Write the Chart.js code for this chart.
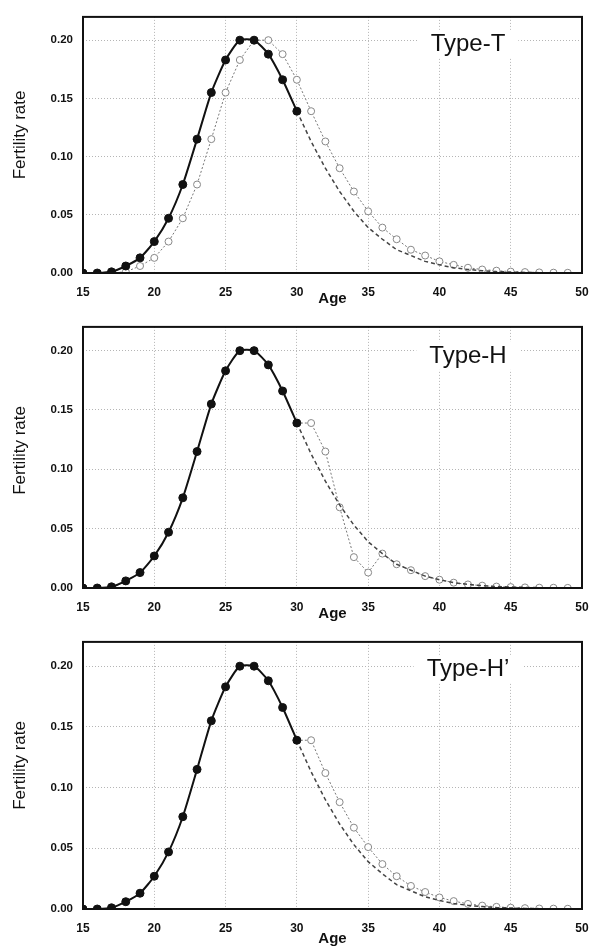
<!DOCTYPE html>
<html>
<head>
<meta charset="utf-8">
<script src="https://cdn.jsdelivr.net/npm/chart.js@4.4.0/dist/chart.umd.min.js"></script>
<style>
  body { margin: 0; background: #fff; }
  canvas { position: absolute; left: 0; }
</style>
</head>
<body>
<canvas id="chartT" width="591" height="310" style="top:0px"></canvas>
<canvas id="chartH" width="591" height="315" style="top:310px"></canvas>
<canvas id="chartH2" width="591" height="325" style="top:625px"></canvas>
<script>
// Observed schedule (solid line, filled dots)
const solidAges = [15, 16, 17, 18, 19, 20, 21, 22, 23, 24, 25, 26, 27, 28, 29, 30];
const solidRates = [0, 0, 0.001, 0.006, 0.013, 0.027, 0.047, 0.076, 0.115, 0.155, 0.183, 0.200, 0.200, 0.188, 0.166, 0.139];

// Continuation of the schedule after 30 (dashed line)
const tailAges = [30, 31, 32, 33, 34, 35, 36, 37, 38, 39, 40, 41, 42, 43, 44, 45, 46, 47, 48, 49];
const tailRates = [0.139, 0.113, 0.090, 0.070, 0.053, 0.039, 0.029, 0.020, 0.015, 0.010, 0.007, 0.0045, 0.003, 0.002, 0.0012, 0.0008, 0.0005, 0.0003, 0.0002, 0.0001];

// Type-T: whole schedule postponed by one year (open circles)
const shiftAgesT = [17, 18, 19, 20, 21, 22, 23, 24, 25, 26, 27, 28, 29, 30, 31, 32, 33, 34, 35, 36, 37, 38, 39, 40, 41, 42, 43, 44, 45, 46, 47, 48, 49];
const shiftRatesT = [0, 0.001, 0.006, 0.013, 0.027, 0.047, 0.076, 0.115, 0.155, 0.183, 0.200, 0.200, 0.188, 0.166, 0.139, 0.113, 0.090, 0.070, 0.053, 0.039, 0.029, 0.020, 0.015, 0.010, 0.007, 0.0045, 0.003, 0.002, 0.0012, 0.0008, 0.0005, 0.0003, 0.0002];

// Type-H and Type-H' (open circles, ages 30-49)
const shiftRatesH = [0.139, 0.139, 0.115, 0.068, 0.026, 0.013, 0.029, 0.020, 0.015, 0.010, 0.007, 0.0045, 0.003, 0.002, 0.0012, 0.0008, 0.0005, 0.0003, 0.0002, 0.0001];
const shiftRatesH2 = [0.139, 0.139, 0.112, 0.088, 0.067, 0.051, 0.037, 0.027, 0.019, 0.014, 0.0095, 0.0065, 0.0042, 0.0028, 0.0018, 0.0011, 0.0007, 0.0004, 0.0003, 0.0002];

// Axis ticks
const xTicks = [15, 20, 25, 30, 35, 40, 45, 50];
const yTicks = [0, 0.05, 0.10, 0.15, 0.20];

const FONT = 'Arial, "Liberation Sans", sans-serif';

function toPoints(xs, ys) {
  return xs.map((x, i) => ({ x: x, y: ys[i] }));
}

// Frame around the plot, y title and the "Type" label with white background
const framePlugin = {
  id: 'frame',
  afterDraw(chart, args, opts) {
    const ctx = chart.ctx;
    const a = chart.chartArea;
    ctx.save();
    ctx.font = '24px ' + FONT;
    const w = ctx.measureText(opts.label).width;
    const cx = a.right - 114;
    const cy = a.top + opts.labelY;
    ctx.fillStyle = '#fff';
    ctx.fillRect(cx - w / 2 - 13, cy - 14, w + 26, 28);
    ctx.fillStyle = '#111';
    ctx.textAlign = 'center';
    ctx.textBaseline = 'middle';
    ctx.fillText(opts.label, cx, cy);

    // y axis title, sits a little above the middle of the plot
    ctx.save();
    ctx.translate(20, (a.top + a.bottom) / 2 - opts.titleShift);
    ctx.rotate(-Math.PI / 2);
    ctx.font = '17px ' + FONT;
    ctx.fillText('Fertility rate', 0, 0);
    ctx.restore();

    ctx.strokeStyle = '#111';
    ctx.lineWidth = 2;
    ctx.strokeRect(a.left, a.top, a.right - a.left, a.bottom - a.top);
    ctx.restore();
  }
};

function makeChart(id, label, shiftAges, shiftRates, opts) {
  const datasets = [
    {
      data: toPoints(solidAges, solidRates),
      borderColor: '#111',
      backgroundColor: '#111',
      borderWidth: 2,
      pointRadius: 4,
      pointBorderWidth: 1,
      tension: 0.2
    },
    {
      data: toPoints(tailAges, tailRates),
      borderColor: '#444',
      borderWidth: 1.5,
      borderDash: [4, 3],
      pointRadius: 0
    },
    {
      data: toPoints(shiftAges, shiftRates),
      borderColor: '#777',
      borderWidth: 1,
      borderDash: [2, 2],
      pointRadius: 3.5,
      pointBackgroundColor: '#fff',
      pointBorderColor: '#888',
      pointBorderWidth: 1
    }
  ];

  return new Chart(document.getElementById(id), {
    type: 'line',
    data: { datasets: datasets },
    plugins: [framePlugin],
    options: {
      responsive: false,
      animation: false,
      devicePixelRatio: 1,
      layout: { padding: { top: opts.top, right: 9, left: 0, bottom: 0 } },
      plugins: {
        legend: { display: false },
        tooltip: { enabled: false },
        frame: { label: label, labelY: opts.labelY, titleShift: opts.titleShift }
      },
      scales: {
        x: {
          type: 'linear',
          min: 15,
          max: 50,
          afterBuildTicks: (scale) => { scale.ticks = xTicks.map(v => ({ value: v })); },
          afterFit: (scale) => {
            scale.height = opts.xHeight;
            scale.paddingLeft = 0;
            scale.paddingRight = 0;
          },
          grid: { color: '#b5b5b5', lineWidth: 1, drawTicks: false },
          border: { display: false, dash: [1, 2] },
          ticks: {
            color: '#111',
            padding: 12,
            maxRotation: 0,
            font: { family: FONT, size: 12, weight: 'bold' }
          },
          title: {
            display: true,
            text: 'Age',
            color: '#111',
            padding: { top: 0, bottom: opts.agePad },
            font: { family: FONT, size: 15, weight: 'bold' }
          }
        },
        y: {
          min: 0,
          max: 0.22,
          afterBuildTicks: (scale) => { scale.ticks = yTicks.map(v => ({ value: v })); },
          afterFit: (scale) => { scale.width = 83; },
          grid: { color: '#b5b5b5', lineWidth: 1, drawTicks: false },
          border: { display: false, dash: [1, 2] },
          ticks: {
            color: '#111',
            padding: 10,
            font: { family: FONT, size: 11.5, weight: 'bold' },
            callback: (v) => v.toFixed(2)
          }
        }
      }
    }
  });
}

makeChart('chartT', 'Type-T', shiftAgesT, shiftRatesT, { top: 8, xHeight: 37, labelY: 27, agePad: 2, titleShift: 10 });
makeChart('chartH', 'Type-H', tailAges, shiftRatesH, { top: 14, xHeight: 37, labelY: 29, agePad: 2, titleShift: 7 });
makeChart('chartH2', 'Type-H\u2019', tailAges, shiftRatesH2, { top: 15, xHeight: 41, labelY: 27, agePad: 2, titleShift: 10 });
</script>
</body>
</html>
